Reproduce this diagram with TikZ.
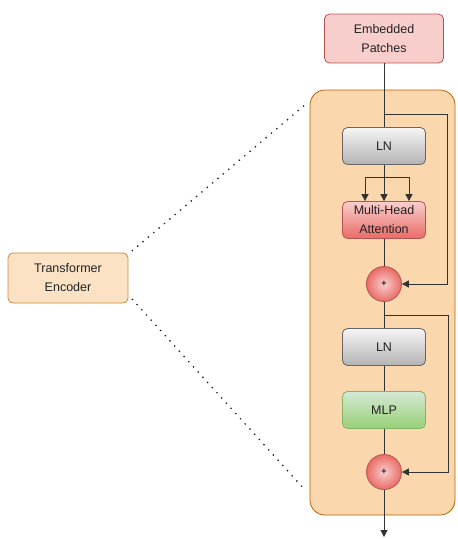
\documentclass[tikz,border=0pt]{standalone}
\usepackage{fontspec}
\setmainfont{Liberation Sans}
\usetikzlibrary{arrows.meta,shapes.geometric}
\definecolor{txt}{HTML}{222222}
\definecolor{pinkF}{HTML}{F8CECC}
\definecolor{redS}{HTML}{B85450}
\definecolor{redB}{HTML}{EA6B66}
\definecolor{orF}{HTML}{FAD7AC}
\definecolor{orS}{HTML}{B46504}
\definecolor{teF}{HTML}{FCE2C4}
\definecolor{teS}{HTML}{C88A3A}
\definecolor{grT}{HTML}{F5F5F5}
\definecolor{grB}{HTML}{B3B3B3}
\definecolor{grS}{HTML}{666666}
\definecolor{gnT}{HTML}{D5E8D4}
\definecolor{gnB}{HTML}{97D077}
\definecolor{gnS}{HTML}{82B366}
\definecolor{lineC}{HTML}{333333}
\tikzset{
  lbl/.style={font=\fontsize{12.5}{19}\selectfont, text=txt, align=center, inner sep=0pt},
  blk/.style={lbl, rectangle, rounded corners=5pt, minimum width=83pt, minimum height=37pt, line width=0.8pt},
  lnbox/.style={blk, draw=grS, top color=grT, bottom color=grB},
  mhabox/.style={blk, draw=redS, top color=pinkF, bottom color=redB},
  mlpbox/.style={blk, draw=gnS, top color=gnT, bottom color=gnB},
  addc/.style={circle, minimum size=35pt, inner sep=0pt, draw=redS, line width=0.8pt, inner color=pinkF, outer color=redB, font=\fontsize{9}{9}\selectfont\bfseries, text=txt},
  conn/.style={draw=lineC, line width=1pt},
  arr/.style={conn, -{Triangle[length=7pt,width=7pt]}},
  dotl/.style={draw=black!85, line width=1.9pt, line cap=round, dash pattern=on 0pt off 7pt}
}
\begin{document}
\begin{tikzpicture}[x=1pt,y=-1pt]
\useasboundingbox (0,0) rectangle (458,539);
% container
\node[draw=orS, fill=orF, rounded corners=15pt, line width=0.8pt, minimum width=145pt, minimum height=425pt, inner sep=0pt] (enc) at (382.5,302.5) {};
% nodes
\node[lbl, rectangle, rounded corners=5pt, draw=redS, fill=pinkF, line width=0.8pt, minimum width=119pt, minimum height=49pt] (emb) at (384,38.5) {Embedded\\Patches};
\node[lbl, rectangle, rounded corners=5pt, draw=teS, fill=teF, line width=0.8pt, minimum width=120pt, minimum height=50pt] (te) at (68,278) {Transformer\\Encoder};
\node[lnbox] (ln1) at (384,146) {LN};
\node[mhabox] (mha) at (384,220) {Multi-Head\\Attention};
\node[addc] (add1) at (384,284) {+};
\node[lnbox] (ln2) at (384,347) {LN};
\node[mlpbox] (mlp) at (384,410) {MLP};
\node[addc] (add2) at (384,472) {+};
% coordinates
\coordinate (b1) at (384,114);
\coordinate (b1r) at (447,114);
\coordinate (sp) at (384,177);
\coordinate (spL) at (365,177);
\coordinate (spR) at (409,177);
\coordinate (b2) at (384,315);
\coordinate (b2r) at (448,315);
\coordinate (out) at (384,537);
\coordinate (dTop) at (306,104);
\coordinate (dBot) at (306,491);
% connectors
\draw[conn] (emb.south) -- (ln1.north);
\draw[arr] (b1) -- (b1r) |- (add1.east);
\draw[conn] (ln1.south) -- (sp);
\draw[conn] (spL) -- (spR);
\draw[arr] (spL) -- (spL |- mha.north);
\draw[arr] (sp) -- (mha.north);
\draw[arr] (spR) -- (spR |- mha.north);
\draw[conn] (mha.south) -- (add1.north);
\draw[conn] (add1.south) -- (ln2.north);
\draw[arr] (b2) -- (b2r) |- (add2.east);
\draw[conn] (ln2.south) -- (mlp.north);
\draw[conn] (mlp.south) -- (add2.north);
\draw[arr] (add2.south) -- (out);
% dotted
\draw[dotl] (te.north east) ++(4,-2) -- (dTop);
\draw[dotl] (te.south east) ++(4,-4) -- (dBot);
\end{tikzpicture}
\end{document}
